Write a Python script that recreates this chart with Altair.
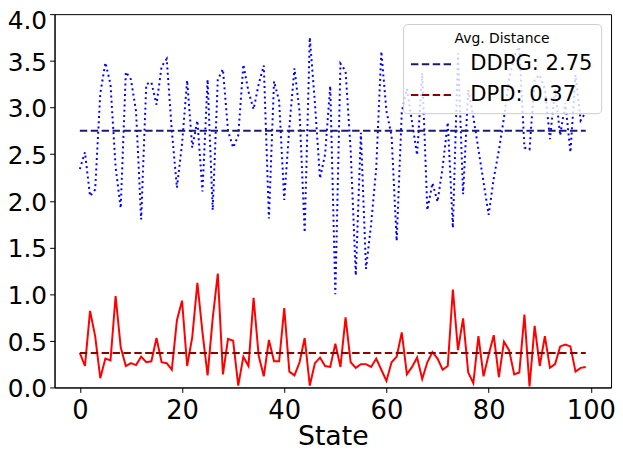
import altair as alt
import pandas as pd

# ---------------- data ----------------
states = list(range(100))

ddpg = [2.34, 2.52, 2.05, 2.12, 3.15, 3.48, 3.25, 2.36, 1.92, 3.38,
        3.30, 2.96, 1.80, 3.25, 3.27, 3.03, 3.44, 3.52, 2.75, 2.14,
        2.61, 3.29, 2.57, 2.86, 2.10, 3.30, 1.90, 3.30, 3.41, 2.75,
        2.57, 2.70, 3.46, 3.17, 2.98, 3.25, 3.45, 1.81, 3.28, 3.07,
        2.01, 2.79, 3.42, 2.95, 1.66, 3.75, 3.05, 2.24, 2.50, 3.23,
        1.00, 3.47, 3.39, 2.54, 1.20, 2.73, 1.27, 1.75, 2.35, 3.60,
        2.96, 2.70, 1.57, 2.95, 3.20, 2.85, 2.49, 3.37, 1.90, 2.19,
        1.99, 2.36, 2.84, 1.71, 3.58, 2.07, 3.19, 2.90, 2.55, 2.20,
        1.85, 2.24, 2.54, 2.89, 3.30, 3.55, 3.65, 2.57, 2.55, 3.30,
        3.35, 3.20, 2.66, 3.20, 2.70, 3.05, 2.52, 3.35, 2.86, 2.95]

dpd = [0.37, 0.23, 0.82, 0.55, 0.10, 0.31, 0.29, 0.98, 0.43, 0.23,
       0.26, 0.24, 0.33, 0.27, 0.28, 0.53, 0.27, 0.26, 0.19, 0.72,
       0.93, 0.23, 0.54, 1.12, 0.59, 0.13, 0.74, 1.22, 0.14, 0.52,
       0.50, 0.02, 0.33, 0.23, 0.96, 0.34, 0.12, 0.51, 0.28, 0.28,
       0.85, 0.17, 0.13, 0.27, 0.53, 0.02, 0.26, 0.32, 0.23, 0.22,
       0.47, 0.22, 0.75, 0.27, 0.21, 0.25, 0.25, 0.22, 0.31, 0.19,
       0.07, 0.27, 0.33, 0.59, 0.14, 0.22, 0.32, 0.09, 0.27, 0.38,
       0.31, 0.19, 0.23, 1.05, 0.40, 0.74, 0.16, 0.045, 0.55, 0.12,
       0.35, 0.56, 0.11, 0.49, 0.40, 0.14, 0.16, 0.78, 0.01, 0.66,
       0.23, 0.55, 0.21, 0.25, 0.44, 0.46, 0.44, 0.17, 0.21, 0.22]

series_names = ["DDPG", "DPD"]
avg_values = [2.75, 0.37]
legend_title = "Avg. Distance"
x_ticks = [0, 20, 40, 60, 80, 100]
y_ticks = [0.0, 0.5, 1.0, 1.5, 2.0, 2.5, 3.0, 3.5, 4.0]

# ---------------- tables ----------------
df = pd.DataFrame({"State": states, "DDPG": ddpg, "DPD": dpd})
labels = [f"{n}: {v:.2f}" for n, v in zip(series_names, avg_values)]
mean_rows = []
for lab, v in zip(labels, avg_values):
    mean_rows.append({"State": states[0], "value": v, "label": lab})
    mean_rows.append({"State": states[-1], "value": v, "label": lab})
mean_df = pd.DataFrame(mean_rows)

FONT = "DejaVu Sans"

x_enc = alt.X("State:Q",
              scale=alt.Scale(domain=[-4.95, 103.95], nice=False, zero=False),
              axis=alt.Axis(values=x_ticks, title="State", format="d"))
y_scale = alt.Scale(domain=[0, 4], nice=False, zero=False)
# top label nudged down slightly so that it is not clipped by the page edge
y_axis = alt.Axis(
    values=y_ticks, format=".1f", title=None,
    labelOffset={"condition": {"test": f"datum.value >= {y_ticks[-1]}", "value": 6.5},
                 "value": 1.6},
)

blue = alt.Chart(df).mark_line(
    color="#0000ff", strokeWidth=2, strokeDash=[2, 3.3], strokeCap="butt"
).encode(x=x_enc, y=alt.Y("DDPG:Q", scale=y_scale, axis=y_axis))

red = alt.Chart(df).mark_line(
    color="#ff0000", strokeWidth=2
).encode(x=x_enc, y=alt.Y("DPD:Q", scale=y_scale, axis=y_axis))

means = alt.Chart(mean_df).mark_line(
    strokeWidth=2, strokeDash=[7.5, 3.5]
).encode(
    x=x_enc,
    y=alt.Y("value:Q", scale=y_scale, axis=y_axis),
    color=alt.Color(
        "label:N",
        scale=alt.Scale(domain=labels, range=["#1c1c6e", "#8b0000"]),
        legend=alt.Legend(
            title=legend_title,
            orient="top-right",
            offset=10,
            symbolType="M-2.26,0H2.26",
            symbolSize=361,
            symbolOffset=10.75,
            symbolStrokeWidth=2,
            symbolDash=[7.5, 3.5],
            symbolFillColor="transparent",
            labelFontSize=21.3,
            labelOffset=27.75,
            titleFontSize=14,
            titleFontWeight="normal",
            titleAnchor="middle",
            titlePadding=8,
            rowPadding=9,
            padding=8,
            fillColor="rgba(255,255,255,0.8)",
            strokeColor="#cccccc",
            cornerRadius=4,
            labelColor="black",
            titleColor="black",
        ),
    ),
)

chart = alt.layer(blue, red, means).properties(
    width=562,
    height=377,
    autosize=alt.AutoSizeParams(type="none"),
    padding={"left": 47, "top": 4, "right": 4, "bottom": 66},
).configure(
    font=FONT,
).configure_view(
    stroke="black", strokeWidth=1
).configure_axis(
    grid=False,
    domainColor="black",
    tickColor="black",
    tickSize=5,
    labelColor="black",
    labelFont=FONT,
    titleFont=FONT,
    titleFontWeight="normal",
    titleColor="black",
    labelFlush=False,
    labelOverlap=False,
).configure_axisX(
    labelFontSize=26,
    labelPadding=5,
    titleFontSize=27,
    titlePadding=1,
).configure_axisY(
    labelFontSize=25,
    labelPadding=3,
)

chart.save("out.html", embed_options={"renderer": "svg", "actions": False})
